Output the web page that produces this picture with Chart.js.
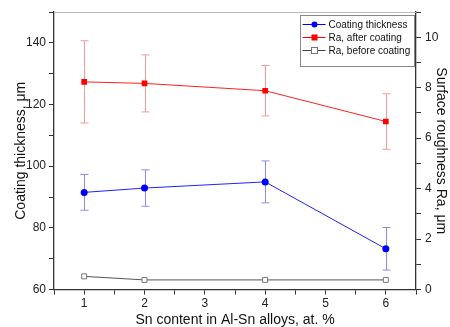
<!DOCTYPE html>
<html>
<head>
<meta charset="utf-8">
<script src="https://cdn.jsdelivr.net/npm/chart.js@4"></script>
<style>
  html, body { margin: 0; padding: 0; background: #fff; }
  #wrap { width: 450px; height: 327px; }
</style>
</head>
<body>
<div id="wrap"><canvas id="c" width="450" height="327"></canvas></div>
<script>
// valeurs
const snContent = [1, 2, 4, 6];
const coatingThickness = [91.5, 92.9, 94.9, 73.2];
const coatingThicknessErr = [5.8, 5.9, 6.8, 6.9];
const raAfter = [8.23, 8.17, 7.88, 6.66];
const raAfterErr = [1.63, 1.13, 1.0, 1.1];
const raBefore = [0.52, 0.38, 0.38, 0.38];

const legendItems = [
    { text: 'Coating thickness', color: '#0000ff', marker: 'circle' },
    { text: 'Ra, after coating', color: '#ff0000', marker: 'rect' },
    { text: 'Ra, before coating', color: '#444444', marker: 'openRect' }
];

const FONT = '"Liberation Sans", Arial, sans-serif';
const axisColor = '#333';

function toXY(ys) {
    return snContent.map((x, i) => ({ x: x, y: ys[i] }));
}

// barres d'erreur + cadre + légende
const errorBars = {
    id: 'errorBars',
    beforeDatasetsDraw(chart) {
        const ctx = chart.ctx;
        const xs = chart.scales.x;
        const sets = [
            { vals: coatingThickness, err: coatingThicknessErr, axis: 'y', color: '#8c8cf0' },
            { vals: raAfter, err: raAfterErr, axis: 'y2', color: '#f59a9a' }
        ];
        ctx.save();
        ctx.lineWidth = 1;
        sets.forEach(s => {
            const ys = chart.scales[s.axis];
            ctx.strokeStyle = s.color;
            snContent.forEach((x, i) => {
                const px = Math.round(xs.getPixelForValue(x)) + 0.5;
                const top = ys.getPixelForValue(s.vals[i] + s.err[i]);
                const bot = ys.getPixelForValue(s.vals[i] - s.err[i]);
                ctx.beginPath();
                ctx.moveTo(px, top); ctx.lineTo(px, bot);
                ctx.moveTo(px - 4, top); ctx.lineTo(px + 4, top);
                ctx.moveTo(px - 4, bot); ctx.lineTo(px + 4, bot);
                ctx.stroke();
            });
        });
        ctx.restore();
    },
    afterDraw(chart) {
        const ctx = chart.ctx;
        const a = chart.chartArea;
        ctx.save();
        ctx.strokeStyle = '#bbb';
        ctx.lineWidth = 1;
        ctx.beginPath();
        ctx.moveTo(a.left, Math.round(a.top) + 0.5);
        ctx.lineTo(a.right, Math.round(a.top) + 0.5);
        ctx.stroke();

        const bx = 300.5, by = 15.5, bw = 114, bh = 51;
        ctx.fillStyle = '#fff';
        ctx.fillRect(bx, by, bw, bh);
        ctx.strokeStyle = '#888';
        ctx.strokeRect(bx, by, bw, bh);
        ctx.font = '10px ' + FONT;
        ctx.textBaseline = 'middle';
        legendItems.forEach((it, i) => {
            const y = by + 9 + i * 13;
            ctx.strokeStyle = it.color;
            ctx.lineWidth = 1;
            ctx.beginPath();
            ctx.moveTo(bx + 2, y); ctx.lineTo(bx + 25, y);
            ctx.stroke();
            const mx = bx + 14;
            if (it.marker === 'circle') {
                ctx.fillStyle = it.color;
                ctx.beginPath(); ctx.arc(mx, y, 3, 0, Math.PI * 2); ctx.fill();
            } else if (it.marker === 'rect') {
                ctx.fillStyle = it.color;
                ctx.fillRect(mx - 3, y - 3, 6, 6);
            } else {
                ctx.fillStyle = '#fff';
                ctx.fillRect(mx - 3, y - 3, 6, 6);
                ctx.strokeStyle = '#777';
                ctx.strokeRect(mx - 3, y - 3, 6, 6);
            }
            ctx.fillStyle = '#111';
            ctx.fillText(it.text, bx + 28, y + 0.5);
        });
        ctx.restore();
    }
};

const tickFont = { family: FONT, size: 12 };
const titleFont = { family: FONT, size: 14, lineHeight: 1.2 };

new Chart(document.getElementById('c'), {
    type: 'line',
    data: {
        datasets: [
            {
                label: 'Coating thickness',
                data: toXY(coatingThickness),
                yAxisID: 'y',
                borderColor: '#2020ff',
                backgroundColor: '#0000ff',
                borderWidth: 1,
                pointStyle: 'circle',
                pointRadius: 3.5,
                pointBorderWidth: 0
            },
            {
                label: 'Ra, after coating',
                data: toXY(raAfter),
                yAxisID: 'y2',
                borderColor: '#ff2020',
                backgroundColor: '#ff0000',
                borderWidth: 1,
                pointStyle: 'rect',
                pointRadius: 4,
                pointBorderWidth: 0
            },
            {
                label: 'Ra, before coating',
                data: toXY(raBefore),
                yAxisID: 'y2',
                borderColor: '#555',
                backgroundColor: '#fff',
                borderWidth: 1,
                pointStyle: 'rect',
                pointRadius: 3.5,
                pointBorderColor: '#777',
                pointBorderWidth: 1
            }
        ]
    },
    options: {
        responsive: false,
        animation: false,
        layout: { padding: { top: 12, left: 0, right: 0, bottom: 0 } },
        plugins: {
            legend: { display: false },
            tooltip: { enabled: false }
        },
        scales: {
            x: {
                type: 'linear',
                min: 0.5,
                max: 6.5,
                border: { color: axisColor, width: 1.3 },
                grid: { drawOnChartArea: false, tickLength: 5, color: axisColor },
                ticks: {
                    stepSize: 0.5,
                    autoSkip: false,
                    maxRotation: 0,
                    padding: 2,
                    color: '#222',
                    font: tickFont,
                    callback: v => (Number.isInteger(v) && v >= 1 && v <= 6) ? v : ''
                },
                title: {
                    display: true,
                    text: 'Sn content in Al-Sn alloys, at. %',
                    color: '#111',
                    font: { family: FONT, size: 14, lineHeight: 1 },
                    padding: { top: 0, bottom: 0 }
                },
                afterFit(s) { s.height = 37.5; }
            },
            y: {
                position: 'left',
                min: 60,
                max: 150,
                border: { color: axisColor, width: 1.3 },
                grid: { drawOnChartArea: false, tickLength: 5, color: axisColor },
                ticks: {
                    stepSize: 10,
                    padding: 3,
                    color: '#222',
                    font: tickFont,
                    callback: v => (v % 20 === 0) ? v : ''
                },
                title: {
                    display: true,
                    text: 'Coating thickness, \u03bcm',
                    color: '#111',
                    font: titleFont,
                    padding: { top: 13, bottom: 0 }
                },
                afterFit(s) { s.width = 54; }
            },
            y2: {
                position: 'right',
                min: 0,
                max: 11,
                border: { color: axisColor, width: 1.3 },
                grid: { drawOnChartArea: false, tickLength: 5, color: axisColor },
                ticks: {
                    stepSize: 1,
                    padding: 4,
                    color: '#222',
                    font: tickFont,
                    callback: v => (v % 2 === 0) ? v : ''
                },
                title: {
                    display: true,
                    text: 'Surface roughness Ra, \u03bcm',
                    color: '#111',
                    font: titleFont,
                    padding: { top: 1, bottom: 0 }
                },
                afterFit(s) { s.width = 34; }
            }
        }
    },
    plugins: [errorBars]
});
</script>
</body>
</html>
